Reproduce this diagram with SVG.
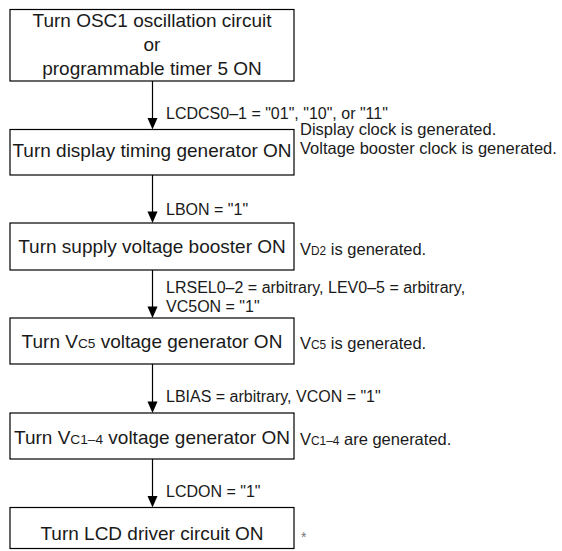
<svg xmlns="http://www.w3.org/2000/svg" width="562" height="551" viewBox="0 0 562 551">
<style>
  .box { fill: #ffffff; stroke: #000000; stroke-width: 1.2; }
  .bt { font-family: "Liberation Sans", Arial, sans-serif; font-size: 19px; fill: #1a1a1a; text-anchor: middle; }
  .lbl { font-family: "Liberation Sans", Arial, sans-serif; font-size: 16px; fill: #1a1a1a; }
  .note { font-family: "Liberation Sans", Arial, sans-serif; font-size: 16.5px; fill: #1a1a1a; }
  .sub { font-size: 0.72em; }
  .edge { stroke: #000000; stroke-width: 1.2; fill: none; }
  .head { fill: #000000; stroke: none; }
</style>
<rect width="562" height="551" fill="#ffffff"/>

<g id="connectors">
  <line class="edge" x1="152.5" y1="81" x2="152.5" y2="120"/>
  <polygon class="head" points="147.5,118 157.5,118 152.5,129.5"/>
  <line class="edge" x1="152.5" y1="175" x2="152.5" y2="214"/>
  <polygon class="head" points="147.5,211.5 157.5,211.5 152.5,223"/>
  <line class="edge" x1="152.5" y1="270" x2="152.5" y2="309"/>
  <polygon class="head" points="147.5,306.5 157.5,306.5 152.5,318"/>
  <line class="edge" x1="152.5" y1="364" x2="152.5" y2="404"/>
  <polygon class="head" points="147.5,401.5 157.5,401.5 152.5,413"/>
  <line class="edge" x1="152.5" y1="459" x2="152.5" y2="498"/>
  <polygon class="head" points="147.5,496 157.5,496 152.5,507.5"/>
  <text class="lbl" x="166" y="119">LCDCS0–1 = "01", "10", or "11"</text>
  <text class="lbl" x="166" y="215">LBON = "1"</text>
  <text class="lbl" x="166" y="293">LRSEL0–2 = arbitrary, LEV0–5 = arbitrary,</text>
  <text class="lbl" x="166" y="312">VC5ON = "1"</text>
  <text class="lbl" x="166" y="402">LBIAS = arbitrary, VCON = "1"</text>
  <text class="lbl" x="166" y="497">LCDON = "1"</text>
</g>

<g id="n1">
  <rect class="box" x="10" y="9.5" width="284" height="71.5"/>
  <text class="bt" x="152" y="27">Turn OSC1 oscillation circuit</text>
  <text class="bt" x="152" y="51">or</text>
  <text class="bt" x="152" y="75">programmable timer 5 ON</text>
</g>

<g id="n2">
  <rect class="box" x="10" y="129.5" width="284" height="45.5"/>
  <text class="bt" x="152" y="157">Turn display timing generator ON</text>
  <text class="note" x="300" y="135">Display clock is generated.</text>
  <text class="note" x="300" y="153.5">Voltage booster clock is generated.</text>
</g>

<g id="n3">
  <rect class="box" x="10" y="223" width="284" height="47"/>
  <text class="bt" x="152" y="253">Turn supply voltage booster ON</text>
  <text class="note" x="300" y="255">V<tspan class="sub">D2</tspan> is generated.</text>
</g>

<g id="n4">
  <rect class="box" x="10" y="318" width="284" height="46"/>
  <text class="bt" x="152" y="348">Turn V<tspan class="sub">C5</tspan> voltage generator ON</text>
  <text class="note" x="300" y="349">V<tspan class="sub">C5</tspan> is generated.</text>
</g>

<g id="n5">
  <rect class="box" x="10" y="413" width="284" height="46"/>
  <text class="bt" x="152" y="444">Turn V<tspan class="sub">C1–4</tspan> voltage generator ON</text>
  <text class="note" x="300" y="445">V<tspan class="sub">C1–4</tspan> are generated.</text>
</g>

<g id="n6">
  <rect class="box" x="10" y="507.5" width="284" height="41"/>
  <text class="bt" x="152" y="540">Turn LCD driver circuit ON</text>
  <text x="301" y="542" fill="#777777" style="font-family:'Liberation Sans', Arial, sans-serif;font-size:14px">*</text>
</g>
</svg>
